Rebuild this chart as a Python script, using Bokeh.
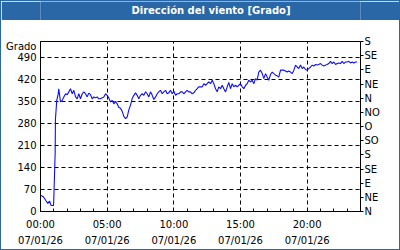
from bokeh.plotting import figure
from bokeh.layouts import column
from bokeh.models import Range1d, LinearAxis, FixedTicker, ColumnDataSource
from bokeh.core.properties import value
from bokeh.embed import file_html
from bokeh.resources import INLINE

# ---- data -------------------------------------------------------------
title_text = "Dirección del viento [Grado]"
y_unit = "Grado"
hours = [0.05, 0.23, 0.40, 0.55, 0.68, 0.80, 0.98, 1.02, 1.10, 1.12, 1.22, 1.33, 1.37,
         1.50, 1.63, 1.75, 1.88, 2.00, 2.12, 2.25, 2.38, 2.50, 2.63, 2.75, 2.87, 3.00,
         3.13, 3.25, 3.38, 3.50, 3.62, 3.75, 3.88, 4.00, 4.13, 4.25, 4.37, 4.50, 4.63,
         4.75, 4.88, 5.00, 5.12, 5.25, 5.38, 5.50, 5.63, 5.75, 5.87, 6.00, 6.13, 6.25,
         6.38, 6.50, 6.62, 6.75, 6.88, 7.00, 7.13, 7.25, 7.37, 7.50, 7.63, 7.75, 7.88,
         8.00, 8.12, 8.25, 8.38, 8.50, 8.63, 8.75, 8.87, 9.00, 9.13, 9.25, 9.38, 9.50,
         9.62, 9.75, 9.88, 10.00, 10.13, 10.25, 10.37, 10.50, 10.63, 10.75, 10.88, 11.00,
         11.12, 11.25, 11.38, 11.50, 11.63, 11.75, 11.87, 12.00, 12.13, 12.25, 12.38,
         12.50, 12.62, 12.75, 12.88, 13.00, 13.13, 13.25, 13.37, 13.50, 13.63, 13.75,
         13.88, 14.00, 14.12, 14.25, 14.38, 14.50, 14.63, 14.75, 14.87, 15.00, 15.13,
         15.25, 15.38, 15.50, 15.62, 15.75, 15.88, 16.00, 16.13, 16.25, 16.37, 16.50,
         16.63, 16.75, 16.88, 17.00, 17.12, 17.25, 17.38, 17.50, 17.63, 17.75, 17.87,
         18.00, 18.13, 18.25, 18.38, 18.50, 18.62, 18.75, 18.88, 19.00, 19.13, 19.25,
         19.37, 19.50, 19.63, 19.75, 19.88, 20.00, 20.12, 20.25, 20.38, 20.50, 20.63,
         20.75, 20.87, 21.00, 21.13, 21.25, 21.38, 21.50, 21.62, 21.75, 21.88, 22.00,
         22.13, 22.25, 22.37, 22.50, 22.63, 22.75, 22.88, 23.00, 23.12, 23.25, 23.38,
         23.50, 23.63, 23.75]
direction = [51, 46, 35, 26, 33, 19, 19, 72, 186, 292, 353, 374, 390,
             348, 353, 364, 374, 371, 380, 390, 374, 385, 364, 358, 374, 358,
             374, 380, 374, 364, 376, 371, 358, 364, 361, 364, 358, 358, 361,
             364, 374, 369, 361, 348, 353, 342, 350, 342, 331, 328, 318, 302,
             295, 300, 322, 338, 359, 369, 377, 369, 358, 369, 374, 369, 380,
             374, 364, 380, 369, 356, 364, 374, 380, 385, 374, 380, 385, 374,
             377, 385, 374, 382, 369, 374, 374, 380, 380, 374, 380, 385,
             380, 380, 374, 377, 385, 390, 396, 396, 396, 406, 401,
             406, 412, 406, 417, 406, 390, 380, 396, 390, 401, 390,
             380, 396, 410, 390, 406, 396, 401, 396, 401, 406, 396,
             390, 401, 406, 417, 412, 417, 406, 422, 417, 443, 449,
             438, 422, 438, 427, 417, 435, 443, 438, 433, 431, 427,
             449, 449, 449, 446, 443, 446, 443, 438, 449, 465, 459,
             454, 465, 454, 459, 451, 449, 454, 459, 465, 462, 467,
             465, 467, 470, 465, 462, 465, 467, 470, 477, 470, 475,
             467, 470, 472, 470, 477, 470, 475, 475, 477, 472, 475,
             472, 475, 475]
x_major = [0, 5, 10, 15, 20]
x_labels = ["00:00\n07/01/26", "05:00\n07/01/26", "10:00\n07/01/26",
            "15:00\n07/01/26", "20:00\n07/01/26"]
x_minor = list(range(0, 25))
y_ticks = [0, 70, 140, 210, 280, 350, 420, 490]
unit_tick = 524
dir_ticks = [0, 45, 90, 135, 180, 225, 270, 315, 360, 405, 450, 495, 540]
dir_labels = ["N", "NE", "E", "SE", "S", "SO", "O", "NO", "N", "NE", "E", "SE", "S"]

# ---- styling ----------------------------------------------------------
BAR = "#2a67a6"
FONT = "DejaVu Sans"
FS = "10px"

# title bar as its own small figure
t = figure(width=398, height=19, output_backend="svg", toolbar_location=None,
           x_range=Range1d(0, 398), y_range=Range1d(0, 19),
           min_border=0, x_axis_location=None, y_axis_location=None)
t.background_fill_color = BAR
t.border_fill_color = BAR
t.outline_line_color = None
t.grid.visible = False
t.text(x=[212], y=[10], text=[title_text], text_align="center",
       text_baseline="middle", text_color="white", text_font=value(FONT),
       text_font_style="bold", text_font_size="10px")

p = figure(width=398, height=229, output_backend="svg", toolbar_location=None,
           x_range=Range1d(0, 24), y_range=Range1d(0, 540),
           min_border_left=39, min_border_right=39, min_border_top=21,
           min_border_bottom=38, x_axis_location=None, y_axis_location=None)
p.extra_y_ranges = {"dir": Range1d(0, 540)}
p.background_fill_color = "white"
p.border_fill_color = "white"
p.outline_line_color = "black"
p.outline_line_width = 1

# bottom axis
xa = LinearAxis(ticker=FixedTicker(ticks=x_major, minor_ticks=x_minor),
                major_label_overrides={tk: lb for tk, lb in zip(x_major, x_labels)})
xa.axis_line_color = "black"
xa.major_tick_in = 3
xa.major_tick_out = 0
xa.minor_tick_in = 3
xa.minor_tick_out = 0
xa.major_tick_line_color = "black"
xa.minor_tick_line_color = "black"
xa.major_label_standoff = 7
xa.major_label_text_font = FONT
xa.major_label_text_font_size = FS
xa.major_label_text_color = "black"
xa.major_label_text_line_height = 1.5
p.add_layout(xa, "below")

# left axis (unit name shown above the top tick)
ya = LinearAxis(ticker=FixedTicker(ticks=y_ticks + [unit_tick]),
                major_label_overrides={unit_tick: y_unit})
ya.axis_line_color = "black"
ya.major_tick_in = 0
ya.major_tick_out = 0
ya.minor_tick_line_color = None
ya.major_label_standoff = 4
ya.major_label_text_font = FONT
ya.major_label_text_font_size = FS
ya.major_label_text_color = "black"
p.add_layout(ya, "left")

# right axis
ra = LinearAxis(y_range_name="dir", ticker=FixedTicker(ticks=dir_ticks),
                major_label_overrides={tk: lb for tk, lb in zip(dir_ticks, dir_labels)})
ra.axis_line_color = "black"
ra.major_tick_in = 0
ra.major_tick_out = 3
ra.major_tick_line_color = "black"
ra.minor_tick_line_color = None
ra.major_label_standoff = 1
ra.major_label_text_font = FONT
ra.major_label_text_font_size = FS
ra.major_label_text_color = "black"
p.add_layout(ra, "right")

p.xgrid.ticker = FixedTicker(ticks=x_major)
p.ygrid.ticker = FixedTicker(ticks=y_ticks)
for g in (p.xgrid, p.ygrid):
    g.grid_line_color = "black"
    g.grid_line_dash = "4 3"
    g.grid_line_width = 1

src = ColumnDataSource(dict(h=hours, d=direction))
p.line("h", "d", source=src, line_color="#0c0cff", line_width=1.1)

layout = column(t, p, spacing=0,
                styles={"border": f"1px solid {BAR}", "background-color": "white"})

open("out.html", "w").write(file_html(layout, INLINE))
